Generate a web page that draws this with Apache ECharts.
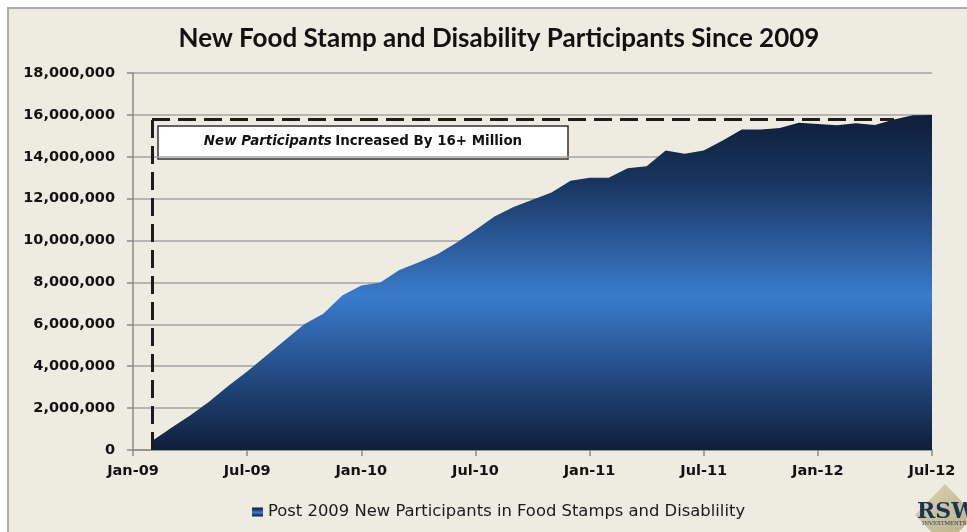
<!DOCTYPE html>
<html>
<head>
<meta charset="utf-8">
<script src="https://cdn.jsdelivr.net/npm/echarts@6/dist/echarts.min.js"></script>
<style>
  html, body { margin: 0; padding: 0; background: #fff; }
  #chart { width: 967px; height: 532px; }
</style>
</head>
<body>
<div id="chart"></div>
<script>
// months on the x axis (Jan-09 .. Jul-12)
var months = [
  'Jan-09','Feb-09','Mar-09','Apr-09','May-09','Jun-09','Jul-09','Aug-09','Sep-09','Oct-09','Nov-09','Dec-09',
  'Jan-10','Feb-10','Mar-10','Apr-10','May-10','Jun-10','Jul-10','Aug-10','Sep-10','Oct-10','Nov-10','Dec-10',
  'Jan-11','Feb-11','Mar-11','Apr-11','May-11','Jun-11','Jul-11','Aug-11','Sep-11','Oct-11','Nov-11','Dec-11',
  'Jan-12','Feb-12','Mar-12','Apr-12','May-12','Jun-12','Jul-12'
];
// cumulative new participants since 2009
var participants = [
  '-', 430000, 1050000, 1650000, 2300000, 3050000, 3750000, 4500000, 5250000, 6000000, 6500000, 7380000,
  7850000, 8000000, 8600000, 8950000, 9350000, 9900000, 10500000, 11150000, 11600000, 11950000, 12300000, 12850000,
  13000000, 13000000, 13450000, 13550000, 14300000, 14150000, 14300000, 14780000, 15300000, 15300000, 15370000, 15620000,
  15570000, 15500000, 15600000, 15520000, 15780000, 15980000, 16000000
];
var seriesName = 'Post 2009 New Participants in Food Stamps and Disablility';
// dashed guide: level and start/end positions (category index)
var guideLevel = 15770000;
var guideStart = 0.9;
var guideEnd = 40.3;

var chart = echarts.init(document.getElementById('chart'));

var blueFill = new echarts.graphic.LinearGradient(0, 0, 0, 1, [
  { offset: 0, color: '#0f1e3a' },
  { offset: 0.2, color: '#183560' },
  { offset: 0.54, color: '#3a7bcd' },
  { offset: 0.82, color: '#1f4275' },
  { offset: 1, color: '#101e39' }
]);

var option = {
  backgroundColor: '#ffffff',
  animation: false,
  title: {
    text: 'New Food Stamp and Disability Participants Since 2009',
    left: 494,
    top: 21,
    textAlign: 'center',
    textStyle: { fontFamily: 'Lato', fontWeight: 'bold', fontSize: 26, color: '#111' }
  },
  legend: {
    left: 247,
    top: 499,
    itemWidth: 11,
    itemHeight: 9,
    itemGap: 6,
    textStyle: { fontFamily: 'DejaVu Sans', fontSize: 16.4, color: '#1a1a1a', padding: [0, 0, 0, 0] },
    data: [{ name: seriesName, icon: 'rect' }]
  },
  grid: { left: 133, right: 35, top: 73, bottom: 82, containLabel: false },
  xAxis: {
    type: 'category',
    data: months,
    boundaryGap: false,
    axisLine: { lineStyle: { color: '#8a8a8a', width: 1.5 } },
    axisTick: { interval: 5, length: 6, lineStyle: { color: '#8a8a8a', width: 1.5 } },
    axisLabel: {
      interval: 5,
      margin: 14,
      fontFamily: 'DejaVu Sans',
      fontWeight: 'bold',
      fontSize: 14.5,
      color: '#111'
    },
    splitLine: { show: false }
  },
  yAxis: {
    type: 'value',
    min: 0,
    max: 18000000,
    interval: 2000000,
    axisLine: { show: true, lineStyle: { color: '#8a8a8a', width: 1.5 } },
    axisTick: { show: true, length: 6, lineStyle: { color: '#8a8a8a', width: 1.5 } },
    axisLabel: {
      margin: 18,
      fontFamily: 'DejaVu Sans',
      fontWeight: 'bold',
      fontSize: 14.5,
      color: '#111',
      formatter: function (v) { return v.toLocaleString('en-US'); }
    },
    splitLine: { lineStyle: { color: '#a3a3a3', width: 1.5 } }
  },
  series: [{
    name: seriesName,
    type: 'line',
    data: participants,
    symbol: 'none',
    lineStyle: { width: 0 },
    itemStyle: { color: blueFill },
    areaStyle: { color: blueFill, opacity: 1 },
    z: 2,
    markLine: {
      silent: true,
      symbol: 'none',
      label: { show: false },
      lineStyle: { type: [18, 8], width: 3, color: '#1c1c1c' },
      z: 5,
      data: [
        [{ coord: [guideStart, 0] }, { coord: [guideStart, guideLevel] }],
        [{ coord: [guideStart, guideLevel] }, { coord: [guideEnd, guideLevel] }]
      ]
    }
  }],
  graphic: [
    {
      type: 'rect',
      z: -10,
      shape: { x: 8, y: 8, width: 980, height: 540 },
      style: { fill: '#eeebe0', stroke: '#aaaaaa', lineWidth: 2 }
    },
    {
      type: 'group',
      z: 50,
      children: [
        {
          type: 'rect',
          shape: { x: 158, y: 126, width: 410, height: 33 },
          style: { fill: '#ffffff', stroke: '#333333', lineWidth: 1.5 }
        },
        {
          type: 'text',
          x: 363,
          y: 142,
          style: {
            text: '{i|New Participants} {n|Increased By 16+ Million}',
            align: 'center',
            verticalAlign: 'middle',
            rich: {
              i: { fontFamily: 'DejaVu Sans', fontWeight: 'bold', fontStyle: 'italic', fontSize: 13.4, fill: '#111' },
              n: { fontFamily: 'DejaVu Sans', fontWeight: 'bold', fontSize: 13.4, fill: '#111' }
            }
          }
        }
      ]
    },
    {
      type: 'group',
      z: 40,
      children: [
        {
          type: 'polygon',
          shape: { points: [[945, 484], [975, 515], [945, 546], [915, 515]] },
          style: {
            fill: new echarts.graphic.LinearGradient(0, 0, 1, 1, [
              { offset: 0, color: '#dcd5b4' },
              { offset: 1, color: '#b5aa80' }
            ])
          }
        },
        {
          type: 'text',
          x: 917,
          y: 512,
          style: {
            text: 'RSW',
            verticalAlign: 'middle',
            fontFamily: 'DejaVu Serif',
            fontWeight: 'bold',
            fontSize: 22,
            fill: '#1c3358'
          }
        },
        {
          type: 'text',
          x: 922,
          y: 524,
          style: {
            text: 'INVESTMENTS',
            verticalAlign: 'middle',
            fontFamily: 'DejaVu Serif',
            fontSize: 5.5,
            fill: '#1c3358'
          }
        }
      ]
    }
  ]
};

chart.setOption(option);
</script>
</body>
</html>
